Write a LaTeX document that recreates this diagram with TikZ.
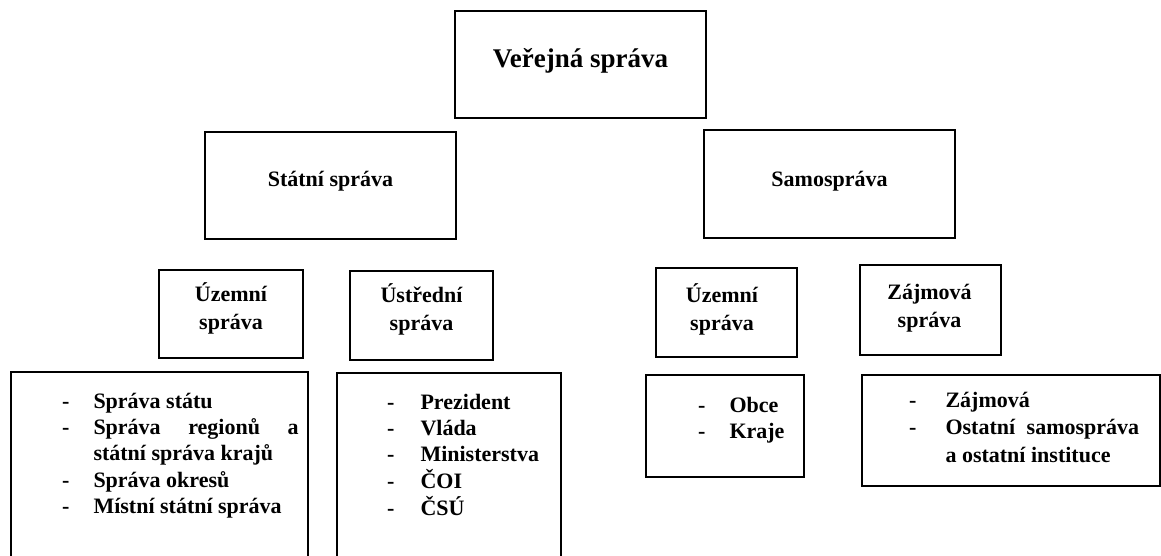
\documentclass[tikz,border=0pt]{standalone}
\usepackage{fontspec}
\setmainfont{Liberation Serif}
\begin{document}
\begin{tikzpicture}[x=1pt,y=-1pt,
  box/.style={draw=black, line width=1.8pt, inner sep=0pt, fill=white},
  lbl/.style={inner sep=0pt, anchor=base, font=\bfseries\fontsize{22}{28}\selectfont},
  lst/.style={inner sep=0pt, anchor=base west, font=\bfseries\fontsize{22}{26.4}\selectfont}]
\clip (0,0) rectangle (1161,555);
\fill[white] (0,0) rectangle (1161,555);
% boxes
\node[box, minimum width=251pt, minimum height=107pt] (top) at (580.5,64.5) {};
\node[box, minimum width=251pt, minimum height=107pt] (st) at (330.5,185.5) {};
\node[box, minimum width=251pt, minimum height=108pt] (sa) at (829.5,184) {};
\node[box, minimum width=144pt, minimum height=88pt] (uzL) at (231,314) {};
\node[box, minimum width=143pt, minimum height=89pt] (us) at (421.5,315.5) {};
\node[box, minimum width=141pt, minimum height=89pt] (uzR) at (726.5,312.5) {};
\node[box, minimum width=141pt, minimum height=90pt] (za) at (930.5,310) {};
\node[box, minimum width=297pt, minimum height=220pt] (lL) at (159.5,482) {};
\node[box, minimum width=224pt, minimum height=220pt] (lM) at (449,483) {};
\node[box, minimum width=158pt, minimum height=102pt] (lO) at (725,426) {};
\node[box, minimum width=298pt, minimum height=111pt] (lZ) at (1011,430.5) {};
% titles
\node[lbl, font=\bfseries\fontsize{27}{32}\selectfont] (topT) at (580.5,67) {Veřejná správa};
\node[lbl] (stT) at (330.5,186) {Státní správa};
\node[lbl] (saT) at (829.5,186) {Samospráva};
\node[lbl] (uzLT) at (231,301) {\begin{tabular}[t]{@{}c@{}}Územní\\správa\end{tabular}};
\node[lbl] (usT) at (421.5,302) {\begin{tabular}[t]{@{}c@{}}Ústřední\\správa\end{tabular}};
\node[lbl] (uzRT) at (722,302) {\begin{tabular}[t]{@{}c@{}}Územní\\správa\end{tabular}};
\node[lbl] (zaT) at (929.5,299) {\begin{tabular}[t]{@{}c@{}}Zájmová\\správa\end{tabular}};
% lists
\node[lst] (lLT) at (62,408) {\begin{tabular}[t]{@{}l@{\hspace{24pt}}l@{}}
- & Správa státu\\
- & \makebox[205pt][s]{Správa regionů a}\\
  & státní správa krajů\\
- & Správa okresů\\
- & Místní státní správa
\end{tabular}};
\node[lst] (lMT) at (387,409) {\begin{tabular}[t]{@{}l@{\hspace{26pt}}l@{}}
- & Prezident\\
- & Vláda\\
- & Ministerstva\\
- & ČOI\\
- & ČSÚ
\end{tabular}};
\node[lst, font=\bfseries\fontsize{22}{26}\selectfont] (lOT) at (698,412) {\begin{tabular}[t]{@{}l@{\hspace{24pt}}l@{}}
- & Obce\\
- & Kraje
\end{tabular}};
\node[lst, font=\bfseries\fontsize{22}{27.5}\selectfont] (lZT) at (909,407) {\begin{tabular}[t]{@{}l@{\hspace{29pt}}l@{}}
- & Zájmová\\
- & Ostatní\hspace{6pt} samospráva\\
  & a ostatní instituce
\end{tabular}};
\end{tikzpicture}
\end{document}
